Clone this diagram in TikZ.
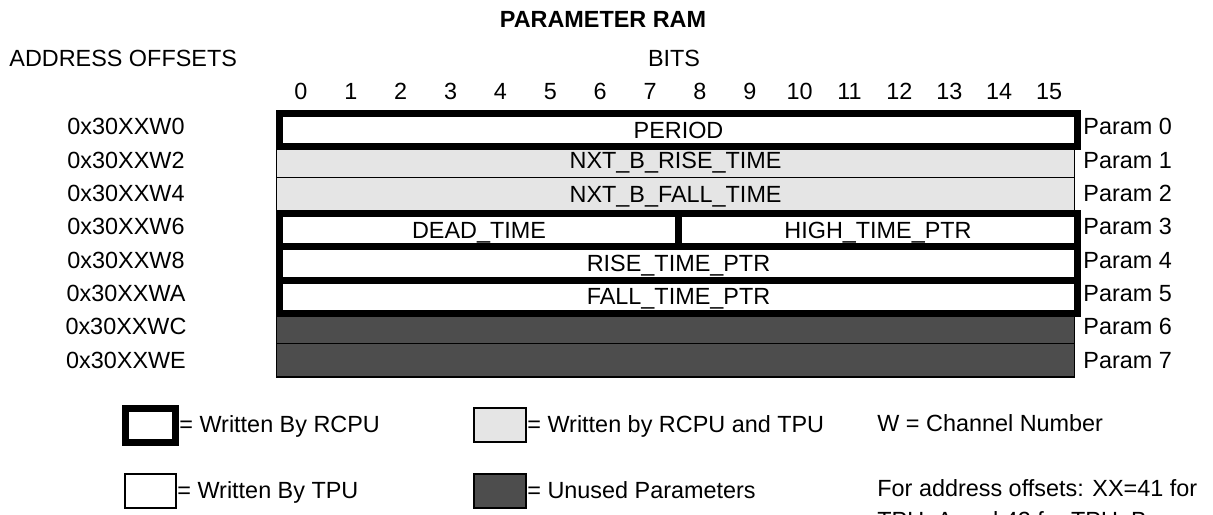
\documentclass[tikz,border=0pt]{standalone}
\usepackage{fontspec}
\setmainfont{Liberation Sans}
\definecolor{lgray}{HTML}{E5E5E5}
\definecolor{dgray}{HTML}{4D4D4D}
\begin{document}
\begin{tikzpicture}[x=0.5pt,y=-0.5pt,
  font=\fontsize{11.7}{13.5}\selectfont,
  lbl/.style={inner sep=0pt, text height=8.3pt, text depth=0pt},
  cell/.style={rectangle, inner sep=0pt, anchor=north west, minimum height=16.65pt, text height=8.3pt, text depth=0pt},
  full/.style={cell, minimum width=399pt},
  half/.style={cell, minimum width=199.5pt},
  thinline/.style={draw=black, line width=0.6pt},
  rcpu/.style={draw=black, line width=3.5pt, fill=white},
  shared/.style={thinline, fill=lgray},
  unused/.style={thinline, fill=dgray},
  tpu/.style={thinline, fill=white}]
\useasboundingbox (0,0) rectangle (1213,514);
\clip (0,0) rectangle (1213,514);

% headings
\node[lbl, font=\bfseries\fontsize{11.7}{13.5}\selectfont] (title) at (603,19) {PARAMETER RAM};
\node[lbl, anchor=west] (addr) at (9,58) {ADDRESS OFFSETS};
\node[lbl] (bits) at (674,58) {BITS};
\foreach \i in {0,...,15} {
  \node[lbl] (b\i) at ({276+49.875*(\i+0.5)},91) {\i};
}

% rows (thin first, thick after)
\node[full, shared] (r1) at (276,143.3) {NXT\_B\_RISE\_TIME};
\node[full, shared] (r2) at (276,176.6) {NXT\_B\_FALL\_TIME};
\node[full, unused] (r6) at (276,309.8) {};
\node[full, unused] (r7) at (276,343.1) {};
\node[full, rcpu] (r0) at (276,110) {PERIOD};
\node[half, rcpu] (r3a) at (276,209.9) {DEAD\_TIME};
\node[half, rcpu] (r3b) at (675,209.9) {HIGH\_TIME\_PTR};
\node[full, rcpu] (r4) at (276,243.2) {RISE\_TIME\_PTR};
\node[full, rcpu] (r5) at (276,276.5) {FALL\_TIME\_PTR};

% address offsets and param names
\foreach \i/\a in {0/0,1/2,2/4,3/6,4/8,5/A,6/C,7/E} {
  \node[lbl] (a\i) at (126,{110+33.3*(\i+0.5)}) {0x30XXW\a};
  \node[lbl, anchor=west] (p\i) at (1083,{110+33.3*(\i+0.5)}) {Param \i};
}

% legend
\node[rectangle, inner sep=0pt, minimum width=25pt, minimum height=17pt, rcpu] (k1) at (150.5,425.5) {};
\node[lbl, anchor=west] (k1t) at (179,424) {= Written By RCPU};
\node[rectangle, inner sep=0pt, minimum width=26pt, minimum height=17pt, shared] (k2) at (500,425) {};
\node[lbl, anchor=west] (k2t) at (527,424) {= Written by RCPU and TPU};
\node[rectangle, inner sep=0pt, minimum width=25.5pt, minimum height=17pt, tpu] (k3) at (150.5,491) {};
\node[lbl, anchor=west] (k3t) at (177,490) {= Written By TPU};
\node[rectangle, inner sep=0pt, minimum width=26pt, minimum height=17pt, unused] (k4) at (500,491) {};
\node[lbl, anchor=west] (k4t) at (527,490) {= Unused Parameters};
\node[lbl, anchor=west] (n1) at (877,423) {W = Channel Number};
\node[lbl, anchor=west] (n2) at (877,488) {For address offsets: XX=41 for};
\node[lbl, anchor=west] (n3) at (877,520) {TPU\_A and 42 for TPU\_B};
\end{tikzpicture}
\end{document}
